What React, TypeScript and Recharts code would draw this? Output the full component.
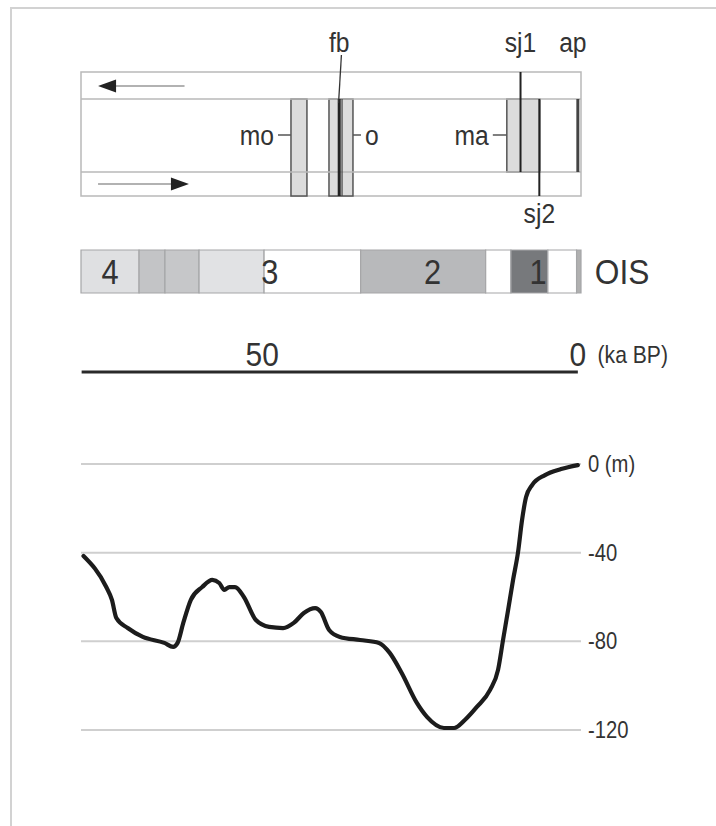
import React from 'react';
import {
  ComposedChart,
  Line,
  XAxis,
  YAxis,
  CartesianGrid,
  ReferenceArea,
  ReferenceLine,
  ReferenceDot,
} from 'recharts';

// ---------------- data ----------------
// time axis (ka BP), drawn reversed: old on the left, present on the right
const ageDomain = [-0.5, 78.7];
const ageTicks = [50, 0];
const ageUnit = '(ka BP)';
const ageLineFrom = 78.6;
const ageLineTo = 0;

// sea-level curve (ka BP, metres)
const seaAge = [
  78.3, 74.7, 73.8, 73.1, 71.3, 68.9, 65.5, 64.1, 63.4, 62.5, 61.3, 59.5,
  57.9, 56.8, 56.0, 55.2, 54.3, 52.9, 51.0, 48.9, 46.7, 45.0, 43.4, 41.6,
  40.7, 39.4, 37.7, 34.5, 31.5, 29.8, 27.9, 25.5, 23.9, 21.2, 19.6, 17.9,
  16.0, 13.9, 12.64, 11.85, 11.05, 10.26, 9.47, 8.84, 8.2, 7.25, 5.2, 2.66, 0.0,
];
const seaLevel = [
  -41.5, -55.5, -61.3, -69.5, -74, -78, -80.7, -82.5, -80.7, -71.7, -61.3, -55.5,
  -52.3, -53.7, -56.8, -55.5, -55.5, -60, -70.4, -73.5, -74, -71.7, -67.2, -65,
  -66.8, -74.9, -78, -79.4, -80.7, -85.2, -94.3, -107.8, -114.1, -119.1, -119.1, -115.5,
  -109.6, -101.9, -92.9, -79.4, -65.9, -52.3, -39.7, -25.3, -14.9, -9.5, -5.0, -2.3, -0.5,
];
const depthTicks = [0, -40, -80, -120];
const depthUnit = '(m)';

// oxygen isotope stages band
const oisStart = [78.7, 69.5, 65.4, 60.0, 49.7, 34.4, 14.6, 10.6, 4.75, 0.2];
const oisEnd = [69.5, 65.4, 60.0, 49.7, 34.4, 14.6, 10.6, 4.75, 0.2, -0.5];
const oisStageLabels = ['4', '3', '2', '1'];
const oisStageAt = [74.1, 48.8, 23.0, 6.3];
const oisTitle = 'OIS';
const oisTitleAt = -7.0;

// sites: dated ranges (boxes) and single dates (lines)
const siteBoxLabels = ['mo', 'o', 'ma'];
const siteBoxStart = [45.44, 39.42, 11.25];
const siteBoxEnd = [42.91, 35.62, 6.02];
const siteLineLabels = ['fb', 'sj1', 'sj2', 'ap'];
const siteLineAge = [37.8, 9.08, 6.1, 0];

// ---------------- style / layout ----------------
const FONT = "'Liberation Sans', Arial, sans-serif";
const SX = 0.88; // horizontal squeeze to mimic the narrow face of the original
const W = 716;
const H = 826;
const INK = '#333';
const PANEL_LINE = '#b9b9b9';
const MARGIN_X = { left: 81, right: 135 };
const OIS_FILLS = ['#dfe0e2', '#c3c4c6', '#c6c7c9', '#e1e2e4', '#ffffff', '#b8b9bb', '#ffffff', '#77797c', '#ffffff', '#b0b0b0'];

// vertical layout of the site panel (panel units = px inside the panel)
const SITE_TOP = 72;
const SITE_BOTTOM = 196;
const LANE_A = 27;
const LANE_B = 100;
const LANE_END = 124;
const BOX_SPANS = [[LANE_A, LANE_END], [LANE_A, LANE_END], [LANE_A, LANE_B]];
const LINE_SPANS = [[LANE_A, LANE_END], [0, LANE_B], [LANE_A, LANE_END], [LANE_A, LANE_B]];

const OIS_TOP = 250;
const OIS_BOTTOM = 293;
const TIME_LINE_Y = 372;
const SEA_TOP = 464;
const SEA_BOTTOM = 730;

const seaData = seaAge.map((age, i) => ({ age, level: seaLevel[i] }));

const layer: React.CSSProperties = { position: 'absolute', left: 0, top: 0 };

function NText(props: {
  x: number;
  y: number;
  size: number;
  anchor?: 'start' | 'middle' | 'end';
  baseline?: string;
  children: React.ReactNode;
}) {
  const { x, y, size, anchor = 'middle', baseline = 'central', children } = props;
  return (
    <text
      transform={`translate(${x},${y}) scale(${SX},1)`}
      textAnchor={anchor}
      dominantBaseline={baseline}
      fontSize={size}
      fontFamily={FONT}
      fill={INK}
    >
      {children}
    </text>
  );
}

const textShape = (label: string, size: number, anchor: 'start' | 'middle' | 'end' = 'middle', dx = 0, dy = 0) =>
  (p: any) => (
    <NText x={p.cx + dx} y={p.cy + dy} size={size} anchor={anchor}>
      {label}
    </NText>
  );

const tickLabelShape = (label: string, side: 'left' | 'right', tick: number) => (p: any) => {
  const dir = side === 'left' ? -1 : 1;
  return (
    <g>
      <line x1={p.cx} y1={p.cy} x2={p.cx + dir * tick} y2={p.cy} stroke="#555" strokeWidth={1.5} />
      <NText x={p.cx + dir * (tick + 4)} y={p.cy} size={28} anchor={side === 'left' ? 'end' : 'start'}>
        {label}
      </NText>
    </g>
  );
};

const arrowHead = (dir: 'left' | 'right') => (p: any) => {
  const s = dir === 'left' ? 1 : -1;
  const { cx, cy } = p;
  return <path d={`M${cx},${cy} L${cx + s * 18},${cy - 6.5} L${cx + s * 18},${cy + 6.5} Z`} fill="#222" />;
};

const xAxisHidden = (
  <XAxis type="number" dataKey="age" domain={ageDomain as any} reversed hide allowDataOverflow />
);

function SitePanel() {
  return (
    <ComposedChart width={W} height={H} data={seaData} margin={{ top: SITE_TOP, bottom: H - SITE_BOTTOM, ...MARGIN_X }}>
      {xAxisHidden}
      <YAxis type="number" domain={[0, LANE_END]} reversed hide allowDataOverflow />
      <ReferenceArea x1={ageDomain[0]} x2={ageDomain[1]} y1={0} y2={LANE_END} fill="none" stroke={PANEL_LINE} strokeWidth={1.5} ifOverflow="visible" />
      <ReferenceLine y={LANE_A} stroke={PANEL_LINE} strokeWidth={1.5} />
      <ReferenceLine y={LANE_B} stroke={PANEL_LINE} strokeWidth={1.5} />
      {/* direction arrows */}
      <ReferenceLine segment={[{ x: 62.3, y: 14 }, { x: 74, y: 14 }]} stroke="#999" strokeWidth={1.5} ifOverflow="visible" />
      <ReferenceDot x={76.0} y={14} r={0} ifOverflow="visible" shape={arrowHead('left')} />
      <ReferenceLine segment={[{ x: 76.0, y: 112 }, { x: 64.0, y: 112 }]} stroke="#999" strokeWidth={1.5} ifOverflow="visible" />
      <ReferenceDot x={61.6} y={112} r={0} ifOverflow="visible" shape={arrowHead('right')} />
      {/* dated ranges */}
      {siteBoxLabels.map((name, i) => (
        <ReferenceArea
          key={name}
          x1={siteBoxStart[i]}
          x2={siteBoxEnd[i]}
          y1={BOX_SPANS[i][0]}
          y2={BOX_SPANS[i][1]}
          fill="#dcdcdc"
          fillOpacity={1}
          stroke="#555"
          strokeWidth={1.5}
          ifOverflow="visible"
        />
      ))}
      {/* single dates */}
      {siteLineLabels.map((name, i) => (
        <ReferenceLine
          key={name}
          segment={[{ x: siteLineAge[i], y: LINE_SPANS[i][0] }, { x: siteLineAge[i], y: LINE_SPANS[i][1] }]}
          stroke={name === 'ap' ? '#444' : '#222'}
          strokeWidth={name === 'fb' || name === 'ap' ? 3 : 2}
          ifOverflow="visible"
        />
      ))}
      <ReferenceLine segment={[{ x: 37.35, y: LANE_A }, { x: 37.35, y: LANE_END }]} stroke="#444" strokeWidth={1.2} ifOverflow="visible" />
      {/* fb leader */}
      <ReferenceLine segment={[{ x: 37.45, y: -17 }, { x: 37.9, y: LANE_A + 4 }]} stroke="#333" strokeWidth={1.3} ifOverflow="visible" />
      {/* labels */}
      <ReferenceDot x={siteBoxStart[0]} y={63} r={0} ifOverflow="visible" shape={tickLabelShape(siteBoxLabels[0], 'left', 13)} />
      <ReferenceDot x={siteBoxEnd[1]} y={63} r={0} ifOverflow="visible" shape={tickLabelShape(siteBoxLabels[1], 'right', 8)} />
      <ReferenceDot x={siteBoxStart[2]} y={63} r={0} ifOverflow="visible" shape={tickLabelShape(siteBoxLabels[2], 'left', 14)} />
      <ReferenceDot x={siteLineAge[0]} y={-30} r={0} ifOverflow="visible" shape={textShape(siteLineLabels[0], 28)} />
      <ReferenceDot x={siteLineAge[1]} y={-30} r={0} ifOverflow="visible" shape={textShape(siteLineLabels[1], 28)} />
      <ReferenceDot x={siteLineAge[2]} y={141} r={0} ifOverflow="visible" shape={textShape(siteLineLabels[2], 28)} />
      <ReferenceDot x={siteLineAge[3]} y={-30} r={0} ifOverflow="visible" shape={textShape(siteLineLabels[3], 28, 'middle', -5)} />
    </ComposedChart>
  );
}

function OisPanel() {
  return (
    <ComposedChart width={W} height={H} data={seaData} margin={{ top: OIS_TOP, bottom: H - OIS_BOTTOM, ...MARGIN_X }}>
      {xAxisHidden}
      <YAxis type="number" domain={[0, 1]} hide allowDataOverflow />
      {oisStart.map((s, i) => (
        <ReferenceArea
          key={i}
          x1={s}
          x2={oisEnd[i]}
          y1={0}
          y2={1}
          fill={OIS_FILLS[i]}
          fillOpacity={1}
          stroke="#a5a6a8"
          strokeWidth={1.2}
          ifOverflow="visible"
        />
      ))}
      {oisStageLabels.map((lab, i) => (
        <ReferenceDot key={lab} x={oisStageAt[i]} y={0.5} r={0} ifOverflow="visible" shape={textShape(lab, 35)} />
      ))}
      <ReferenceDot x={oisTitleAt} y={0.5} r={0} ifOverflow="visible" shape={textShape(oisTitle, 36)} />
    </ComposedChart>
  );
}

// time scale: a thick rule with tick labels above it
function TimeAxis() {
  const AX_H = 40;
  const RULE_H = 20; // plot band under the labels, rule drawn on its top edge
  return (
    <ComposedChart
      width={W}
      height={H}
      data={seaData}
      margin={{ top: TIME_LINE_Y - AX_H, bottom: H - TIME_LINE_Y - RULE_H, ...MARGIN_X }}
    >
      <XAxis
        type="number"
        dataKey="age"
        domain={ageDomain as any}
        reversed
        allowDataOverflow
        orientation="top"
        height={AX_H}
        ticks={ageTicks}
        interval={0}
        tickLine={false}
        axisLine={false}
        tickSize={0}
        tickMargin={6}
        tick={(p: any) => (
          <NText x={p.x} y={p.y} size={34} baseline="alphabetic">
            {String(p.payload.value)}
          </NText>
        )}
      />
      <YAxis type="number" domain={[0, 1]} reversed hide allowDataOverflow />
      <ReferenceLine
        segment={[{ x: ageLineFrom, y: 0 }, { x: ageLineTo, y: 0 }]}
        stroke="#2a2a2a"
        strokeWidth={3}
        ifOverflow="visible"
      />
      <ReferenceDot x={-8.7} y={0} r={0} ifOverflow="visible" shape={textShape(ageUnit, 24, 'middle', 0, -17)} />
    </ComposedChart>
  );
}

function SeaPanel() {
  const YW = 60;
  return (
    <ComposedChart
      width={W}
      height={H}
      data={seaData}
      margin={{ top: SEA_TOP, bottom: H - SEA_BOTTOM, left: MARGIN_X.left, right: MARGIN_X.right - YW }}
    >
      <CartesianGrid horizontal vertical={false} stroke="#cfcfcf" strokeWidth={2} />
      {xAxisHidden}
      <YAxis
        type="number"
        orientation="right"
        width={YW}
        domain={[-120, 0]}
        ticks={depthTicks}
        interval={0}
        axisLine={false}
        tickLine={false}
        tickSize={0}
        tickMargin={7}
        tick={(p: any) => (
          <NText x={p.x} y={p.y} size={23} anchor="start">
            {p.payload.value === 0 ? `0 ${depthUnit}` : String(p.payload.value)}
          </NText>
        )}
      />
      <Line
        type="monotone"
        dataKey="level"
        stroke="#1c1c1c"
        strokeWidth={4.2}
        dot={false}
        isAnimationActive={false}
        strokeLinejoin="round"
        strokeLinecap="round"
      />
    </ComposedChart>
  );
}

export default function App() {
  return (
    <div
      style={{
        position: 'absolute',
        left: 0,
        top: 0,
        width: W,
        height: H,
        overflow: 'hidden',
        background: '#fff',
        fontFamily: FONT,
      }}
    >
      <div
        style={{
          position: 'absolute',
          left: 10,
          top: 7,
          width: 900,
          height: 1000,
          borderLeft: '2px solid #d2d2d2',
          borderTop: '2px solid #d2d2d2',
        }}
      />
      <div style={layer}><SeaPanel /></div>
      <div style={layer}><TimeAxis /></div>
      <div style={layer}><OisPanel /></div>
      <div style={layer}><SitePanel /></div>
    </div>
  );
}
